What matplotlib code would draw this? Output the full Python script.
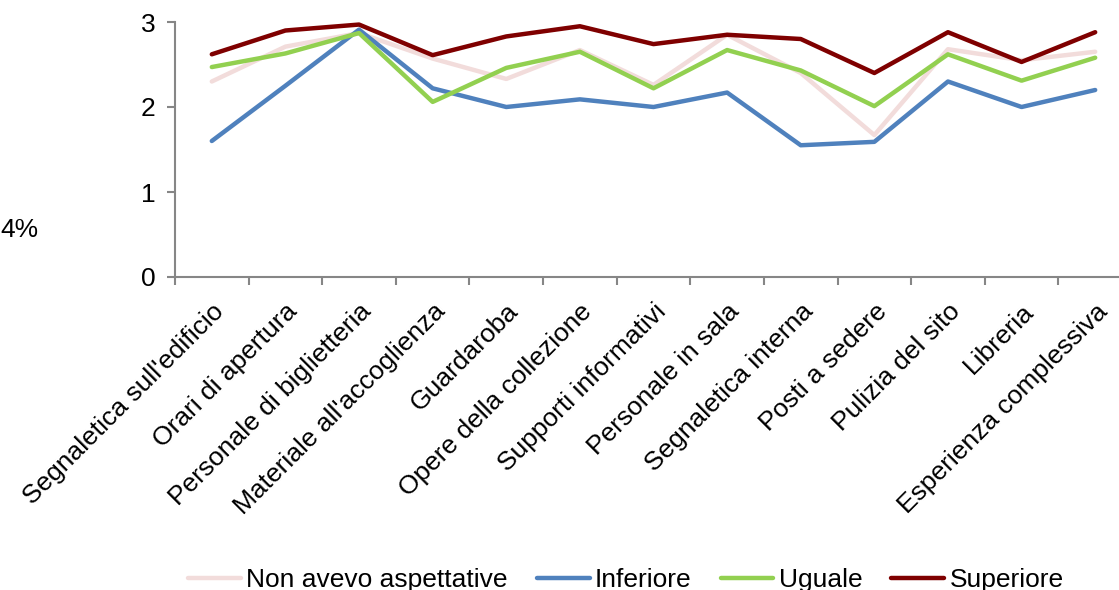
import numpy as np
import matplotlib
matplotlib.use("Agg")
import matplotlib.pyplot as plt

plt.rcParams["font.family"] = ["Liberation Sans", "DejaVu Sans"]

categories = ["Segnaletica sull'edificio", "Orari di apertura", "Personale di biglietteria",
              "Materiale all'accoglienza", "Guardaroba", "Opere della collezione",
              "Supporti informativi", "Personale in sala", "Segnaletica interna",
              "Posti a sedere", "Pulizia del sito", "Libreria", "Esperienza complessiva"]

non_avevo = [2.30, 2.71, 2.87, 2.57, 2.33, 2.67, 2.26, 2.85, 2.40, 1.67, 2.68, 2.55, 2.65]
inferiore = [1.60, 2.25, 2.91, 2.22, 2.00, 2.09, 2.00, 2.17, 1.55, 1.59, 2.30, 2.00, 2.20]
uguale = [2.47, 2.63, 2.87, 2.06, 2.46, 2.65, 2.22, 2.67, 2.43, 2.01, 2.62, 2.31, 2.58]
superiore = [2.62, 2.90, 2.97, 2.61, 2.83, 2.95, 2.74, 2.85, 2.80, 2.40, 2.88, 2.53, 2.88]

series = [("Non avevo aspettative", non_avevo, "#F2DCDB"),
          ("Inferiore", inferiore, "#4F81BD"),
          ("Uguale", uguale, "#92D050"),
          ("Superiore", superiore, "#7F0000")]

GREY = "#868686"
FS = 19

fig = plt.figure(figsize=(11.19, 5.9), dpi=100)
ax = fig.add_axes([175 / 1119, 1 - 277 / 590, 957 / 1119, 255 / 590])
x = np.arange(len(categories))
for name, vals, col in series:
    ax.plot(x, vals, color=col, lw=3.2, label=name, solid_capstyle="round")

ax.set_xlim(-0.5, len(categories) - 0.5)
ax.set_ylim(0, 3)
ax.set_yticks([0, 1, 2, 3])
ax.set_xticks(np.arange(-0.5, len(categories)), [""] * (len(categories) + 1))
ax.set_xticks(x, categories, minor=True)
ax.tick_params(axis="x", which="major", length=6, width=1.5, color=GREY, direction="out")
ax.tick_params(axis="x", which="minor", length=0, pad=16, labelsize=FS)
ax.tick_params(axis="y", length=6, width=1.5, color=GREY, labelsize=FS, pad=8)
for lbl in ax.get_xticklabels(minor=True):
    lbl.set_rotation(45)
    lbl.set_ha("right")
    lbl.set_rotation_mode("anchor")
for s in ("top", "right"):
    ax.spines[s].set_visible(False)
for s in ("left", "bottom"):
    ax.spines[s].set_color(GREY)
    ax.spines[s].set_linewidth(1.5)

fig.text(0, 1 - 230 / 590, "4%", fontsize=FS, va="center", ha="left")

fig.legend(loc="center", bbox_to_anchor=(626 / 1119, 1 - 580 / 590), ncol=4,
           frameon=False, fontsize=FS, handlelength=2.0, handletextpad=0.2,
           columnspacing=1.1)

fig.savefig("out.png", dpi=100)
